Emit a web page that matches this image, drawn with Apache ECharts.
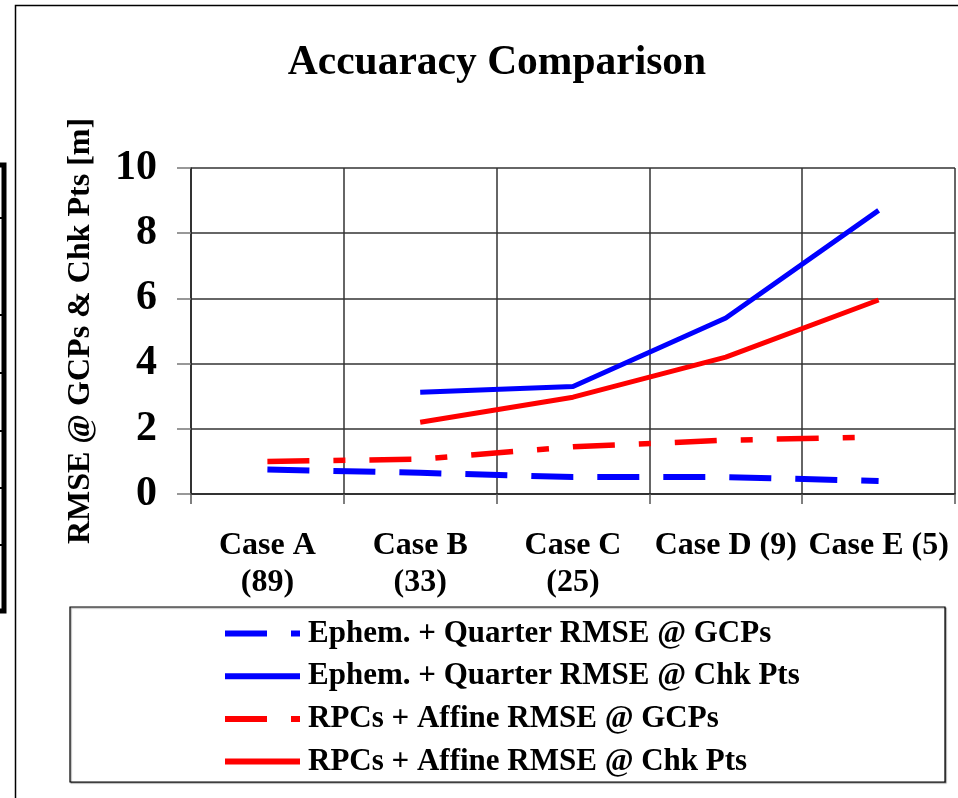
<!DOCTYPE html>
<html>
<head>
<meta charset="utf-8">
<script src="https://cdn.jsdelivr.net/npm/echarts@6/dist/echarts.min.js"></script>
<style>html,body{margin:0;padding:0;background:#fff;}#c{width:958px;height:798px;}</style>
</head>
<body>
<div id="c"></div>
<script>
var categories = ['Case A\n(89)', 'Case B\n(33)', 'Case C\n(25)', 'Case D (9)', 'Case E (5)'];
var seriesNames = ['Ephem. + Quarter RMSE @ GCPs', 'Ephem. + Quarter RMSE @ Chk Pts', 'RPCs + Affine RMSE @ GCPs', 'RPCs + Affine RMSE @ Chk Pts'];
var ephemGcp = [0.75, 0.65, 0.52, 0.52, 0.40];
var ephemChk = [null, 3.12, 3.30, 5.40, 8.70];
var rpcGcp = [1.00, 1.07, 1.45, 1.65, 1.75];
var rpcChk = [null, 2.20, 2.97, 4.20, 5.95];
var yTicks = { min: 0, max: 10, interval: 2 };

var FONT = '"Liberation Serif", "Times New Roman", serif';
var chart = echarts.init(document.getElementById('c'), null, { renderer: 'canvas' });

function mk(name, data, color, width, dash) {
  return {
    name: name, type: 'line', data: data, symbol: 'none', smooth: false,
    lineStyle: { color: color, width: width, type: dash, cap: 'butt' },
    itemStyle: { color: color },
    connectNulls: false, z: 3
  };
}

chart.setOption({
  animation: false,
  backgroundColor: '#fff',
  title: {
    text: 'Accuaracy Comparison', left: 492, top: 37, textAlign: 'center',
    textStyle: { fontFamily: FONT, fontWeight: 'bold', fontSize: 41.5, color: '#000' }
  },
  grid: { left: 191, right: 3, top: 168, bottom: 304, containLabel: false },
  xAxis: {
    type: 'category', data: categories, boundaryGap: true,
    axisLine: { show: true, lineStyle: { color: '#222', width: 1.5 } },
    axisTick: { show: true, length: 10, lineStyle: { color: '#555', width: 1.5 } },
    splitLine: { show: true, lineStyle: { color: '#333', width: 1.5 } },
    axisLabel: { fontFamily: FONT, fontWeight: 'bold', fontSize: 32, color: '#000', margin: 33, lineHeight: 37, interval: 0 }
  },
  yAxis: {
    type: 'value', min: yTicks.min, max: yTicks.max, interval: yTicks.interval,
    name: 'RMSE @ GCPs & Chk Pts [m]', nameLocation: 'middle', nameGap: 94, nameRotate: 90,
    nameTextStyle: { fontFamily: FONT, fontWeight: 'bold', fontSize: 32, color: '#000' },
    axisLine: { show: true, lineStyle: { color: '#222', width: 1.5 } },
    axisTick: { show: true, length: 14, lineStyle: { color: '#777', width: 1.5 } },
    splitLine: { show: true, lineStyle: { color: '#333', width: 1.5 } },
    axisLabel: { fontFamily: FONT, fontWeight: 'bold', fontSize: 42, color: '#000', margin: 34 }
  },
  legend: {
    orient: 'vertical', left: 222, top: 618, padding: 0, itemWidth: 75, itemHeight: 8, itemGap: 11.7,
    itemStyle: { opacity: 0 },
    lineStyle: { width: 6 },
    textStyle: { fontFamily: FONT, fontWeight: 'bold', fontSize: 31, lineHeight: 30, color: '#000', padding: [0, 0, 0, 3] },
    data: seriesNames
  },
  series: [
    mk(seriesNames[0], ephemGcp, '#0000ff', 6, [42, 24]),
    mk(seriesNames[1], ephemChk, '#0000ff', 5, 'solid'),
    mk(seriesNames[2], rpcGcp, '#ff0000', 5.5, [42, 24, 12, 24]),
    mk(seriesNames[3], rpcChk, '#ff0000', 5, 'solid')
  ],
  graphic: [
    { type: 'rect', z: -1, shape: { x: 15.5, y: 5.5, width: 960, height: 800 }, style: { fill: 'none', stroke: '#000', lineWidth: 1.5 } },
    { type: 'rect', z: 0, shape: { x: 70, y: 607, width: 875, height: 175 }, style: { fill: '#fff', stroke: '#000', lineWidth: 1.2, shadowColor: 'rgba(0,0,0,0.4)', shadowOffsetX: 1, shadowOffsetY: 1, shadowBlur: 1 } },
    { type: 'rect', z: 0, shape: { x: -10, y: 165, width: 14, height: 446 }, style: { fill: 'none', stroke: '#000', lineWidth: 5 } },
    { type: 'line', shape: { x1: 0, y1: 218, x2: 4, y2: 218 }, style: { stroke: '#000', lineWidth: 2 } },
    { type: 'line', shape: { x1: 0, y1: 315, x2: 4, y2: 315 }, style: { stroke: '#000', lineWidth: 2 } },
    { type: 'line', shape: { x1: 0, y1: 373, x2: 4, y2: 373 }, style: { stroke: '#000', lineWidth: 2 } },
    { type: 'line', shape: { x1: 0, y1: 431, x2: 4, y2: 431 }, style: { stroke: '#000', lineWidth: 2 } },
    { type: 'line', shape: { x1: 0, y1: 488, x2: 4, y2: 488 }, style: { stroke: '#000', lineWidth: 2 } },
    { type: 'line', shape: { x1: 0, y1: 545, x2: 4, y2: 545 }, style: { stroke: '#000', lineWidth: 2 } }
  ]
});
</script>
</body>
</html>
